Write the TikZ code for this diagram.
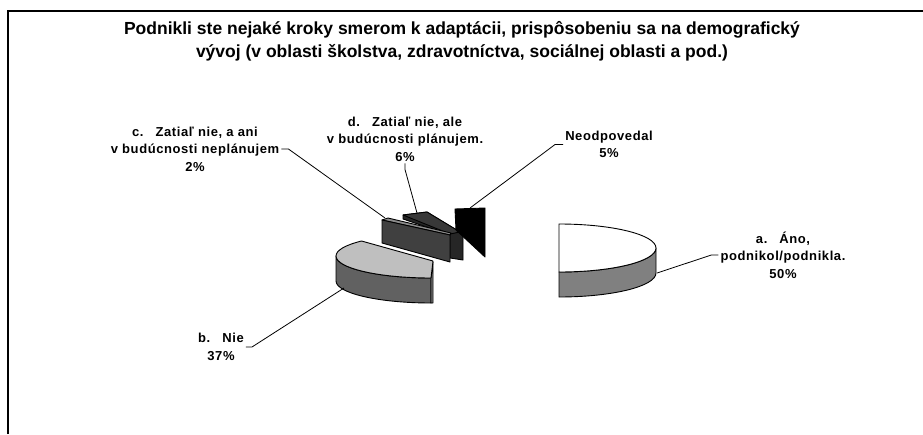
\documentclass[tikz,border=0pt]{standalone}
\usepackage{fontspec}
\setmainfont{Liberation Sans}
\newfontfamily\lblfont[LetterSpace=4.5]{Liberation Sans}
\begin{document}
\begin{tikzpicture}[x=1pt,y=1pt,
  lbl/.style={font=\lblfont\bfseries\fontsize{13}{17.5}\selectfont, align=center, inner sep=2pt},
  ttl/.style={font=\bfseries\fontsize{17.5}{23}\selectfont, align=center, inner sep=0pt},
  leader/.style={draw=black, line width=0.8pt},
  edge/.style={draw=black, line width=0.9pt, line join=round}]
\useasboundingbox (0,0) rectangle (923,-434);
\fill[white] (0,0) rectangle (923,-434);
% frame
\draw[line width=1.6pt] (8,-434) -- (8,-11) -- (923,-11);
% title
\node[ttl] (title) at (462,-41.5) {Podnikli ste nejaké kroky smerom k adaptácii, prispôsobeniu sa na demografický\\výv{o}j (v oblasti školstva, zdravotníctva, sociálnej oblasti a pod.)};

% slice d (very dark)
\path[edge, fill=black!85] (403,-215) -- (427,-212) -- (460,-232) -- (463,-234) -- (463,-260) -- (450,-258) -- (450,-235) -- (403,-219) -- cycle;
\path[edge, fill=black!78] (403,-215) -- (427,-212) -- (460,-232) -- (450,-234) -- cycle;
% slice c
\path[edge, fill=black!45] (382,-220) -- (388,-218) -- (451,-233) -- (450,-235) -- cycle;
\path[edge, fill=black!75] (382,-220) -- (450,-235) -- (450,-262) -- (382,-243) -- cycle;
% slice Neodpovedal (black)
\path[edge, fill=black] (455,-209) -- (485,-208) -- (485,-257) -- (456,-230) -- cycle;

% slice b
\path[edge, fill=black!62] (336,-256) arc[start angle=180, end angle=270, x radius=95, y radius=22]
  -- ++(0,-25) arc[start angle=270, end angle=180, x radius=95, y radius=22] -- cycle;
\path[edge, fill=black!50] (431,-278) -- (433,-262) -- (433,-303) -- (431,-303) -- cycle;
\path[edge, fill=black!25] (433,-261) -- (431,-278) arc[start angle=270, end angle=137, x radius=95, y radius=22] -- cycle;

% slice a
\path[edge, fill=black!50] (656,-248) arc[start angle=0, end angle=-90, x radius=97, y radius=24]
  -- ++(0,-25) arc[start angle=-90, end angle=0, x radius=97, y radius=24] -- cycle;
\path[edge, fill=white] (559,-224) arc[start angle=90, end angle=-90, x radius=97, y radius=24] -- cycle;

% anchor points on slices
\coordinate (cP) at (385,-218);
\coordinate (dP) at (417,-213);
\coordinate (nP) at (470,-208);
\coordinate (aP) at (657,-273);
\coordinate (bP) at (344,-288);

% labels
\node[lbl] (clab) at (195,-149) {c.\hspace{12pt}Zatiaľ nie, a ani\\v budúcnosti neplánujem\\2\%};
\node[lbl] (dlab) at (405,-139) {d.\hspace{12pt}Zatiaľ nie, ale\\v budúcnosti plánujem.\\6\%};
\node[lbl] (nlab) at (609,-144.5) {Neodpovedal\\5\%};
\node[lbl] (alab) at (783,-255) {a.\hspace{12pt}Áno,\\podnikol/podnikla.\\50\%};
\node[lbl] (blab) at (221,-347) {b.\hspace{12pt}Nie\\37\%};

% leaders
\draw[leader] (clab.east) -- ++(7,0) -- (cP);
\draw[leader] (dlab.south) -- ++(0,-6) -- (dP);
\draw[leader] (nlab.west) -- ++(-8,0) -- (nP);
\draw[leader] (alab.west) -- ++(-7,0) -- (aP);
\draw[leader] (blab.east) -- ++(6,0) -- (bP);
\end{tikzpicture}
\end{document}
